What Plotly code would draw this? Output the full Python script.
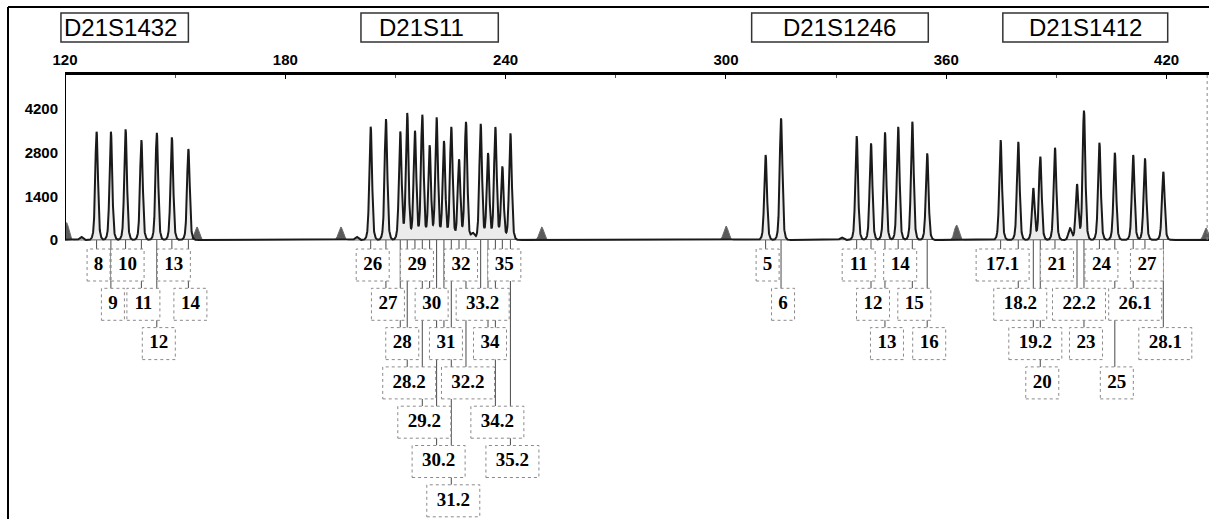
import numpy as np
import plotly.graph_objects as go

# ---------------- data ----------------
marker_names = ["D21S1432", "D21S11", "D21S1246", "D21S1412"]

d21s1432_alleles = ["8", "9", "10", "11", "12", "13", "14"]
d21s1432_sizes = [128.6, 132.5, 136.5, 140.8, 145.0, 149.1, 153.6]
d21s1432_heights = [3476, 3476, 3553, 3210, 3444, 3297, 2921]
d21s1432_rows = [1, 2, 1, 2, 3, 1, 2]

d21s11_alleles = ["26", "27", "28", "28.2", "29", "29.2", "30", "30.2", "31",
                  "31.2", "32", "32.2", "33.2", "34", "34.2", "35", "35.2"]
d21s11_sizes = [203.25, 207.4, 211.3, 213.2, 215.3, 217.3, 219.3, 221.2, 223.2,
                225.2, 227.3, 229.2, 233.2, 235.2, 237.2, 239.1, 241.3]
d21s11_heights = [3637, 3884, 3476, 4067, 3499, 4013, 3027, 3926, 3168,
                  3627, 2578, 3788, 3724, 2783, 3618, 2353, 3425]
d21s11_rows = [1, 2, 3, 4, 1, 5, 2, 6, 3, 7, 1, 4, 2, 3, 5, 1, 6]

d21s1246_alleles = ["5", "6", "11", "12", "13", "14", "15", "16"]
d21s1246_sizes = [310.8, 315.0, 335.6, 339.5, 343.3, 346.9, 350.75, 354.8]
d21s1246_heights = [2729, 3906, 3338, 3104, 3457, 3637, 3797, 2783]
d21s1246_rows = [1, 2, 1, 2, 3, 1, 2, 3]

d21s1412_alleles = ["17.1", "18.2", "19.2", "20", "21", "22.2", "23", "24",
                    "25", "26.1", "27", "28.1"]
d21s1412_sizes = [374.8, 379.6, 383.7, 385.6, 389.6, 395.6, 397.5, 401.7,
                  405.9, 410.9, 414.1, 419.1]
d21s1412_heights = [3210, 3155, 1660, 2674, 2963, 1788, 4151, 3123,
                    2802, 2729, 2623, 2192]
d21s1412_rows = [1, 2, 3, 4, 1, 2, 3, 1, 4, 2, 1, 3]

# small unlabelled peaks on the sample trace
minor_sizes = [124.4, 199.4, 231.1, 331.5, 393.7]
minor_heights = [100, 100, 220, 80, 375]

# size-standard peaks (grey filled)
std_sizes = [120.4, 155.9, 195.1, 249.8, 300.0, 362.8, 430.7]
std_heights = [560, 420, 420, 420, 450, 480, 385]

size_ticks = [120, 180, 240, 300, 360, 420]
size_minor_ticks = [150, 210, 270, 330, 390]
rfu_ticks = [0, 1400, 2800, 4200]

# marker header boxes (bp extents) and text centres
marker_box_start = [118.9, 200.6, 307.0, 375.4]
marker_box_end = [153.6, 238.0, 355.1, 420.3]
marker_text_x = [135.0, 217.1, 330.8, 397.9]

# ---------------- scales ----------------
W, H = 1209, 519
ML, MT = 65, 75
PX_PER_BP = 3.672
UNITS_PER_PX = 32.1
x_min = 120.0
x_max = x_min + (W - ML) / PX_PER_BP
y_max = (240 - MT) * UNITS_PER_PX
y_min = -(H - 240) * UNITS_PER_PX


def row_center(r):
    return -(25 + 39.3 * (r - 1)) * UNITS_PER_PX


def bp_to_paper(v):
    return (v - x_min) / (x_max - x_min)


BOX_HALF = 16 * UNITS_PER_PX

all_alleles = d21s1432_alleles + d21s11_alleles + d21s1246_alleles + d21s1412_alleles
all_sizes = d21s1432_sizes + d21s11_sizes + d21s1246_sizes + d21s1412_sizes
all_heights = d21s1432_heights + d21s11_heights + d21s1246_heights + d21s1412_heights
all_rows = d21s1432_rows + d21s11_rows + d21s1246_rows + d21s1412_rows

# ---------------- traces ----------------
x = np.arange(119.0, 432.5, 0.03)
sig = np.zeros_like(x)
for s, h in zip(all_sizes, all_heights):
    sig += 0.85 * h * np.exp(-0.5 * ((x - s) / 0.34) ** 2)
    sig += 0.15 * h * np.exp(-0.5 * ((x - s) / 0.66) ** 2)
for s, h in zip(minor_sizes, minor_heights):
    sig += h * np.exp(-0.5 * ((x - s) / 0.45) ** 2)

std = np.zeros_like(x)
for s, h in zip(std_sizes, std_heights):
    std += h * np.exp(-0.5 * ((x - s) / 0.6) ** 2)

fig = go.Figure()
fig.add_trace(go.Scatter(x=x, y=std, mode="lines", fill="tozeroy",
                         line=dict(color="#6a6a6a", width=1),
                         fillcolor="#5a5a5a", hoverinfo="skip"))
fig.add_trace(go.Scatter(x=x, y=sig, mode="lines", fill="tozeroy",
                         line=dict(color="#1a1a1a", width=2),
                         fillcolor="rgba(0,0,0,0.08)", hoverinfo="skip"))

# allele label text
label_x = [s + 2 / PX_PER_BP for s in all_sizes]
label_y = [row_center(r) for r in all_rows]
fig.add_trace(go.Scatter(x=label_x, y=label_y, mode="text", text=all_alleles,
                         textposition="middle center",
                         textfont=dict(family="Liberation Serif", size=19,
                                       color="black", weight="bold"),
                         hoverinfo="skip"))

shapes = []
# connectors
for s, r in zip(all_sizes, all_rows):
    shapes.append(dict(type="line", xref="x", yref="y", x0=s, x1=s,
                       y0=0, y1=row_center(r) + BOX_HALF,
                       line=dict(color="#4a4a4a", width=1), layer="below"))
# label boxes
for s, r, lab in zip(label_x, all_rows, all_alleles):
    half_w = (13 + 10 * len(lab)) / 2 / PX_PER_BP
    c = row_center(r)
    shapes.append(dict(type="rect", xref="x", yref="y",
                       x0=s - half_w, x1=s + half_w,
                       y0=c - BOX_HALF, y1=c + BOX_HALF,
                       line=dict(color="#8a8a8a", width=1, dash="dot"),
                       fillcolor="white", layer="below"))
# y axis line (signal region only)
shapes.append(dict(type="line", xref="x", yref="y", x0=x_min, x1=x_min,
                   y0=0, y1=y_max, line=dict(color="black", width=2)))
# right edge dotted line
shapes.append(dict(type="line", xref="x", yref="y", x0=x_max - 0.5, x1=x_max - 0.5,
                   y0=0, y1=y_max, line=dict(color="#888888", width=1, dash="dot")))
# outer frame (left and top)
px_left = (8 - ML) / (W - ML)
py_top = (H - 7) / (H - MT)
shapes.append(dict(type="line", xref="paper", yref="paper", x0=px_left, x1=px_left,
                   y0=-0.05, y1=py_top, line=dict(color="black", width=2)))
shapes.append(dict(type="line", xref="paper", yref="paper", x0=px_left, x1=1.01,
                   y0=py_top, y1=py_top, line=dict(color="black", width=2)))

# marker header boxes
hb_top = (H - 13) / (H - MT)
hb_bot = (H - 42) / (H - MT)
annotations = []
for name, x0, x1, tx in zip(marker_names, marker_box_start, marker_box_end, marker_text_x):
    shapes.append(dict(type="rect", xref="paper", yref="paper",
                       x0=bp_to_paper(x0), x1=bp_to_paper(x1),
                       y0=hb_bot, y1=hb_top,
                       line=dict(color="#333333", width=1.5), fillcolor="white"))
    annotations.append(dict(xref="paper", yref="paper", x=bp_to_paper(tx),
                            y=(hb_top + hb_bot) / 2,
                            text=name, showarrow=False, xanchor="center",
                            yanchor="middle",
                            font=dict(family="Liberation Sans", size=24,
                                      color="black")))

fig.update_layout(
    width=W, height=H,
    margin=dict(l=ML, r=0, t=MT, b=0),
    paper_bgcolor="white", plot_bgcolor="white",
    showlegend=False,
    shapes=shapes, annotations=annotations,
    xaxis=dict(range=[x_min, x_max], side="top", tickvals=size_ticks,
               ticks="inside", ticklen=4, tickwidth=1, tickcolor="black",
               showline=True, linewidth=3, linecolor="black", automargin=False,
               showgrid=False, zeroline=False, ticklabelstandoff=1,
               tickfont=dict(family="Liberation Sans", size=15, color="black",
                             weight="bold"),
               minor=dict(tickvals=size_minor_ticks, ticks="inside", ticklen=3,
                          tickcolor="#555555")),
    yaxis=dict(range=[y_min, y_max], tickvals=rfu_ticks, showline=False,
               automargin=False,
               showgrid=False, zeroline=False, ticks="", ticklabelstandoff=6,
               tickfont=dict(family="Liberation Sans", size=15, color="black",
                             weight="bold")),
)

fig.write_html("out.html", config={"displayModeBar": False},
               post_script="document.body.style.margin='0';"
                           "document.body.style.padding='0';")
